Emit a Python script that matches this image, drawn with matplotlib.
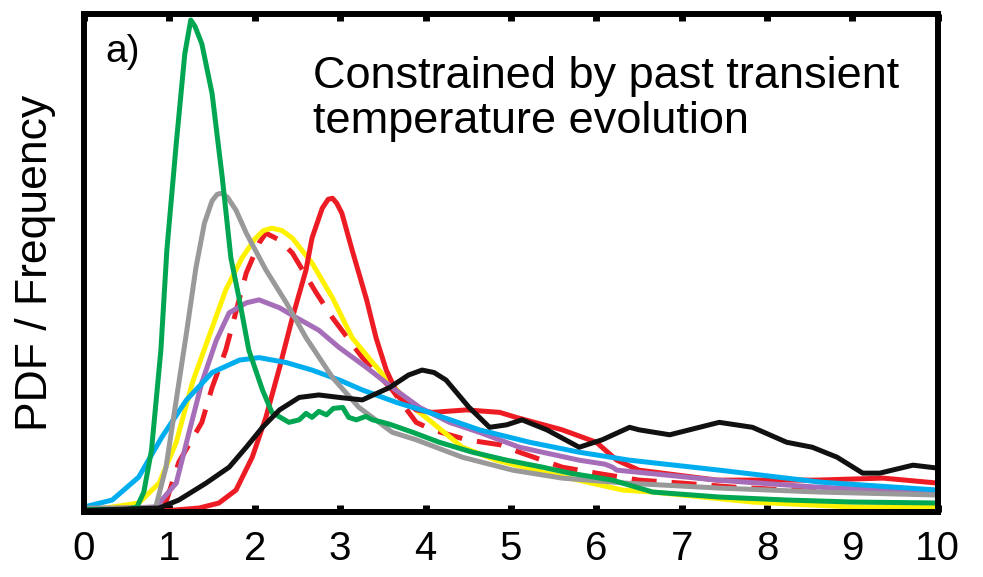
import numpy as np
import matplotlib.pyplot as plt

plt.rcParams['font.family'] = ['Liberation Sans', 'DejaVu Sans']

# === CURVES (x = climate sensitivity, y = PDF in arbitrary units) ===
green_x = [0, 0.5, 0.62, 0.7, 0.79, 0.9, 0.97, 1.08, 1.18, 1.25, 1.3, 1.38, 1.5, 1.62, 1.72,
           1.82, 1.93, 2.09, 2.2, 2.4, 2.52, 2.6, 2.67, 2.75, 2.84, 2.92, 3.03, 3.1, 3.19,
           3.3, 3.38, 3.5, 3.6, 3.85, 4.16, 4.55, 4.95, 5.37, 5.69, 6.19, 6.66, 7.44, 8.23,
           9.0, 10.0]
green_y = [0.5, 0.5, 1, 4, 12.4, 32.5, 52.6, 74, 92, 98.8, 97.5, 94, 84, 67, 51,
           42.6, 32.5, 24.5, 20, 18, 18.5, 19.8, 19, 20.2, 19.5, 20.8, 21, 19, 18.5,
           19.2, 18.5, 18, 17.5, 16, 14, 12, 10.4, 9, 7.8, 6.4, 4, 3, 2.4,
           2, 1.8]

gray_x = [0, 0.7, 0.84, 0.96, 1.08, 1.2, 1.31, 1.41, 1.5, 1.56, 1.61, 1.68, 1.78, 1.9, 2.13,
          2.37, 2.6, 2.91, 3.22, 3.61, 3.89, 4.43, 5.02, 5.6, 6.35, 7.44, 8.62, 10]
gray_y = [0.8, 0.8, 1, 9, 22.5, 36, 49, 58, 62.5, 63.8, 64, 63.2, 60.6, 56, 48.6,
          42, 35, 27, 21, 16, 14.5, 11, 8.4, 6.8, 5.8, 4.8, 4, 3.4]

yellow_x = [0, 0.26, 0.64, 0.88, 1.08, 1.27, 1.5, 1.66, 1.85, 2.0, 2.1, 2.2, 2.32, 2.44,
            2.67, 2.91, 3.14, 3.38, 3.58, 3.89, 4.04, 4.43, 4.83, 5.42, 6.31, 6.66, 7.83,
            9.0, 10]
yellow_y = [0.5, 0.8, 1.8, 5.8, 14, 26, 37, 44.6, 51, 54.8, 56.5, 57, 56.5, 55,
            50, 43, 35, 30, 26, 20.5, 18.5, 13, 10.4, 7.8, 4.4, 4, 2,
            1, 1]

red_x = [0, 1.0, 1.35, 1.58, 1.78, 1.97, 2.13, 2.29, 2.44, 2.6, 2.67, 2.79, 2.86, 2.91,
         2.96, 3.02, 3.14, 3.31, 3.42, 3.54, 3.69, 3.89, 4.08, 4.48, 4.87, 5.06, 5.6, 6.0,
         6.24, 6.5, 7.41, 8.58, 9.36, 10]
red_y = [0.3, 0.3, 0.8, 1.8, 4.4, 11, 19, 29, 39, 48.6, 55, 61, 62.8, 63,
         62, 60, 52.6, 42.6, 35, 28.5, 23, 20.5, 20, 20.5, 20, 19, 16.5, 14,
         10.4, 8.4, 6.4, 6.4, 6.8, 5.8]

red_dash_x = [0, 0.8, 0.96, 1.11, 1.38, 1.5, 1.66, 1.9, 2.05, 2.13, 2.29, 2.44, 2.72, 2.91,
              3.26, 3.61, 3.89, 4.08, 4.48, 4.87, 5.1, 5.6, 6.0, 6.5, 7.0, 7.6, 8.5, 10]
red_dash_y = [0.3, 0.5, 2, 10, 18, 25, 32.5, 48, 54, 56, 54.6, 52, 44, 39,
              31, 24.5, 18, 16.5, 14.5, 13.5, 12, 9, 7.8, 6.4, 5.8, 5, 4.2, 3.5]

purple_x = [0, 0.84, 1.08, 1.23, 1.38, 1.55, 1.7, 1.9, 2.05, 2.29, 2.49, 2.75, 2.99, 3.31,
            3.61, 3.93, 4.28, 4.63, 5.1, 5.8, 6.1, 6.19, 6.24, 7.41, 8.58, 10]
purple_y = [0.5, 1, 5.8, 16, 26, 34.5, 40, 42, 42.6, 41, 39, 36.5, 33, 29,
            25, 21, 18, 16, 13, 10.4, 9.6, 9, 8.4, 6.4, 5, 3.8]

cyan_x = [0, 0.33, 0.64, 0.91, 1.2, 1.5, 1.82, 2.05, 2.37, 2.67, 2.99, 3.26, 3.66, 4.04,
          4.63, 5.22, 5.8, 6.39, 7.44, 8.62, 10]
cyan_y = [1, 2.4, 7, 15, 22.5, 28, 30.5, 31, 30, 28.5, 26.5, 24.5, 22, 20,
          16.5, 14, 12, 10.4, 8.4, 6, 4.4]

black_x = [0, 0.88, 1.11, 1.43, 1.7, 1.9, 2.09, 2.29, 2.52, 2.75, 2.99, 3.26, 3.58, 3.8,
           3.96, 4.1, 4.24, 4.51, 4.75, 4.95, 5.13, 5.42, 5.8, 6.07, 6.39, 6.5, 6.86, 7.44,
           7.83, 8.23, 8.53, 8.82, 9.12, 9.32, 9.71, 10]
black_y = [0.3, 0.8, 2.4, 5.8, 9, 13, 17, 20.5, 23, 23.5, 23, 22.5, 25, 27.5,
           28.5, 28, 26.5, 21, 17, 17.5, 18.5, 16.5, 13, 14.5, 17, 16.5, 15.5, 18,
           17, 14, 13, 11, 7.8, 7.8, 9.4, 8.8]

xticks = list(range(0, 11))

# === PLOT ===
fig = plt.figure(figsize=(9.83, 5.77), dpi=100)
ax = fig.add_axes([0.0855, 0.1127, 0.8685, 0.863])

lw = 3.6
ax.plot(red_dash_x, red_dash_y, color='#ED1C24', lw=lw, dashes=(5, 3))
ax.plot(yellow_x, yellow_y, color='#FFF200', lw=lw)
ax.plot(red_x, red_y, color='#ED1C24', lw=lw)
ax.plot(purple_x, purple_y, color='#A66DB8', lw=lw)
ax.plot(cyan_x, cyan_y, color='#00AEEF', lw=lw)
ax.plot(gray_x, gray_y, color='#999999', lw=lw)
ax.plot(green_x, green_y, color='#00A651', lw=lw)
ax.plot(black_x, black_y, color='#111111', lw=lw)

ax.set_xlim(0, 10)
ax.set_ylim(0, 100)
ax.set_xticks(xticks)
ax.set_yticks([])
ax.tick_params(axis='x', direction='in', top=True, length=5, width=5,
               labelsize=29, pad=13)
for s in ax.spines.values():
    s.set_linewidth(4.3)

ax.set_ylabel("PDF / Frequency", fontsize=32, labelpad=20)
ax.text(0.025, 0.96, "a)", transform=ax.transAxes, fontsize=28, va='top')
ax.text(0.268, 0.915, "Constrained by past transient\ntemperature evolution",
        transform=ax.transAxes, fontsize=32.5, va='top', linespacing=1.12)

fig.savefig("out.png", dpi=100)
